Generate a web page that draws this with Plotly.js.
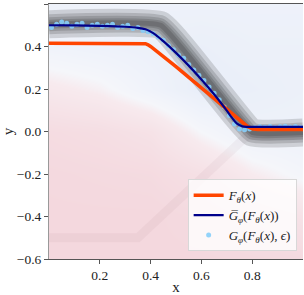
<!DOCTYPE html>
<html>
<head>
<meta charset="utf-8">
<script src="https://cdn.plot.ly/plotly-3.0.1.min.js"></script>
<style>html,body{margin:0;padding:0;background:#fff;}#plot{width:304px;height:295px;}</style>
</head>
<body>
<div id="plot"></div>
<script>
// Background decision surface (coarse grid, smoothed)
var bgX = [0, 0.2, 0.4, 0.6, 0.8, 1.0];
var bgY = [-0.6, -0.4, -0.2, 0.0, 0.2, 0.4, 0.6];
var bgZ = [
  [-1.0, -1.0, -1.0, -1.0, -0.95, -0.9],
  [-1.0, -1.0, -1.0, -0.9, -0.7, -0.5],
  [-0.95, -0.9, -0.85, -0.6, -0.1, 0.2],
  [-0.8, -0.7, -0.5, 0.1, 0.5, 0.5],
  [-0.2, 0.0, 0.4, 0.8, 0.7, 0.6],
  [0.4, 0.5, 0.6, 0.7, 0.6, 0.6],
  [0.5, 0.5, 0.5, 0.5, 0.5, 0.5]
];

// Density band of the data (centre curve)
var bandX = [0.0, 0.44, 0.80, 1.0];
var bandY = [0.505, 0.500, -0.005, -0.005];

// Faint mirrored band
var mirX = [0.0, 0.35, 0.78, 1.0];
var mirY = [-0.5, -0.5, -0.02, -0.02];

// F_theta(x)
var fX = [0.0, 0.36, 0.38, 0.39, 0.40, 0.50, 0.60, 0.70, 0.76, 0.78, 0.80, 0.82, 1.0];
var fY = [0.415, 0.415, 0.413, 0.408, 0.400, 0.305, 0.205, 0.110, 0.045, 0.025, 0.013, 0.010, 0.010];

// mean G_phi(F_theta(x))
var gX = [0.0, 0.1, 0.2, 0.3, 0.35, 0.38, 0.40, 0.42, 0.45, 0.50, 0.55, 0.60, 0.65, 0.70, 0.72, 0.74, 0.76, 0.78, 0.80, 0.90, 1.0];
var gY = [0.500, 0.499, 0.497, 0.493, 0.488, 0.481, 0.470, 0.455, 0.425, 0.370, 0.310, 0.245, 0.175, 0.098, 0.065, 0.037, 0.025, 0.022, 0.022, 0.022, 0.022];

// samples G_phi(F_theta(x), eps)
var sX = [0.01,0.03,0.05,0.07,0.09,0.11,0.13,0.15,0.17,0.19,0.21,0.23,0.25,0.27,0.29,0.31,0.33,0.35,0.37,0.39,
          0.41,0.43,0.45,0.47,0.49,0.51,0.53,0.55,0.57,0.59,0.61,0.63,0.65,0.67,0.69,0.71,0.73,0.75,0.77,0.79,
          0.81,0.83,0.85,0.87,0.89,0.91,0.93,0.95,0.97,0.99];
var sY = [0.490,0.505,0.515,0.510,0.495,0.505,0.510,0.490,0.500,0.505,0.495,0.500,0.505,0.490,0.495,0.500,0.485,0.490,0.475,0.470,
          0.460,0.445,0.430,0.405,0.385,0.360,0.345,0.315,0.290,0.265,0.240,0.210,0.180,0.150,0.115,0.075,0.035,0.012,0.008,0.012,
          0.018,0.022,0.020,0.024,0.018,0.022,0.025,0.020,0.023,0.019];

var SERIF = 'Liberation Serif';

var traces = [];
traces.push({
  type: 'heatmap', x: bgX, y: bgY, z: bgZ, zsmooth: 'best', showscale: false, hoverinfo: 'skip',
  zmin: -1, zmax: 1,
  colorscale: [[0, '#f4d8de'], [0.45, '#f7eaee'], [0.55, '#f5f6fa'], [1, '#e5ecf9']]
});
traces.push({
  type: 'scatter', mode: 'lines', x: mirX, y: mirY, showlegend: false, hoverinfo: 'skip',
  line: {color: 'rgba(140,90,100,0.06)', width: 9}
});
var widths = [28, 20, 14, 9, 5];
widths.forEach(function (w) {
  traces.push({
    type: 'scatter', mode: 'lines', x: bandX, y: bandY, showlegend: false, hoverinfo: 'skip',
    line: {color: 'rgba(0,0,0,0.14)', width: w, shape: 'spline', smoothing: 0.3}
  });
});
traces.push({
  type: 'scatter', mode: 'markers', x: sX, y: sY, name: '<i>G</i><sub><i>φ</i></sub>(<i>F</i><sub><i>θ</i></sub>(<i>x</i>), <i>ϵ</i>)',
  legendrank: 3, marker: {color: '#87cefa', size: 5, opacity: 0.9}
});
traces.push({
  type: 'scatter', mode: 'lines', x: fX, y: fY, name: '<i>F</i><sub><i>θ</i></sub>(<i>x</i>)',
  legendrank: 1, line: {color: '#ff4500', width: 3.5}
});
traces.push({
  type: 'scatter', mode: 'lines', x: gX, y: gY, line: {color: '#00008b', width: 2.2, shape: 'spline'},
  legendrank: 2, name: '<i>G\u0305</i><sub><i>φ</i></sub>(<i>F</i><sub><i>θ</i></sub>(<i>x</i>))'
});

var layout = {
  width: 304, height: 295,
  margin: {l: 49, r: 1, t: 4, b: 36},
  paper_bgcolor: '#ffffff', plot_bgcolor: '#ffffff',
  font: {family: SERIF, size: 13, color: '#222'},
  showlegend: true,
  legend: {
    x: 0.975, y: 0.03, xanchor: 'right', yanchor: 'bottom',
    bgcolor: 'rgba(255,255,255,0.8)', bordercolor: '#d8d8d8', borderwidth: 1,
    font: {family: SERIF, size: 13, color: '#222'},
    tracegroupgap: 0
  },
  xaxis: {
    range: [0, 1], tickvals: [0.2, 0.4, 0.6, 0.8], ticktext: ['0.2', '0.4', '0.6', '0.8'],
    showgrid: false, zeroline: false, showline: true, linecolor: '#555', linewidth: 1.2, mirror: true,
    ticks: 'outside', ticklen: 3.5, tickcolor: '#555',
    tickfont: {family: SERIF, size: 13.5},
    title: {text: 'x', font: {family: SERIF, size: 15}, standoff: 4}
  },
  yaxis: {
    range: [-0.6, 0.6], tickvals: [-0.6, -0.4, -0.2, 0, 0.2, 0.4, 0.6],
    ticktext: ['\u22120.6', '\u22120.4', '\u22120.2', '0.0', '0.2', '0.4', '0.6'],
    showgrid: false, zeroline: false, showline: true, linecolor: '#999', linewidth: 1.5,
    ticks: 'outside', ticklen: 3.5, tickcolor: '#555',
    tickfont: {family: SERIF, size: 13.5},
    title: {text: 'y', font: {family: SERIF, size: 15}, standoff: 8}
  }
};

Plotly.newPlot('plot', traces, layout, {staticPlot: true, displayModeBar: false});
</script>
</body>
</html>
